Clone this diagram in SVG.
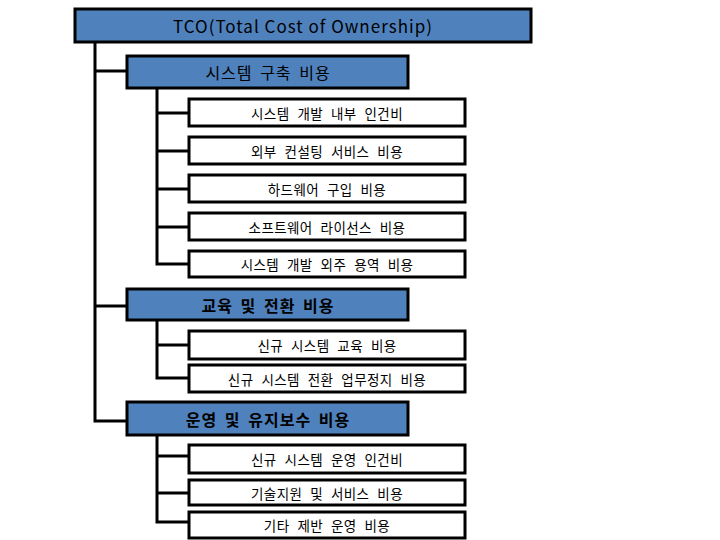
<svg xmlns="http://www.w3.org/2000/svg" width="720" height="540" viewBox="0 0 720 540">
<style>
.blue{fill:#4f81bd;stroke:#000;stroke-width:3}
.white{fill:#fff;stroke:#000;stroke-width:3}
.ln{fill:none;stroke:#000;stroke-width:3}
text{font-family:"Noto Sans CJK KR","Malgun Gothic",sans-serif;text-anchor:middle;dominant-baseline:central;fill:#000}
.t0{font-size:17px;letter-spacing:1px}
.t1{font-size:16px;letter-spacing:1px;word-spacing:3px}
.b{font-weight:bold}
.t2{font-size:13.5px;letter-spacing:0.4px;word-spacing:4.5px}
</style>
<rect width="720" height="540" fill="#fff"/>
<g id="connectors">
<polyline class="ln" points="95,42 95,421 127,421"/>
<line class="ln" x1="95" y1="71" x2="127" y2="71"/>
<line class="ln" x1="95" y1="306" x2="127" y2="306"/>
<polyline class="ln" points="157,88 157,264 189,264"/>
<line class="ln" x1="157" y1="113" x2="189" y2="113"/>
<line class="ln" x1="157" y1="151" x2="189" y2="151"/>
<line class="ln" x1="157" y1="189" x2="189" y2="189"/>
<line class="ln" x1="157" y1="227" x2="189" y2="227"/>
<polyline class="ln" points="157,319 157,378 189,378"/>
<line class="ln" x1="157" y1="345" x2="189" y2="345"/>
<polyline class="ln" points="157,435 157,522 189,522"/>
<line class="ln" x1="157" y1="456" x2="189" y2="456"/>
<line class="ln" x1="157" y1="493" x2="189" y2="493"/>
</g>
<g id="tco"><rect class="blue" x="75" y="9" width="456" height="33"/><text class="t0" x="303" y="25">TCO(Total Cost of Ownership)</text></g>
<g id="build"><rect class="blue" x="127" y="56" width="281" height="32"/><text class="t1" x="268" y="72">시스템 구축 비용</text></g>
<g id="b1"><rect class="white" x="189" y="99" width="276" height="27"/><text class="t2" x="327" y="112.5">시스템 개발 내부 인건비</text></g>
<g id="b2"><rect class="white" x="189" y="137" width="276" height="27"/><text class="t2" x="327" y="150.5">외부 컨설팅 서비스 비용</text></g>
<g id="b3"><rect class="white" x="189" y="175" width="276" height="27"/><text class="t2" x="327" y="188.5">하드웨어 구입 비용</text></g>
<g id="b4"><rect class="white" x="189" y="213" width="276" height="27"/><text class="t2" x="327" y="226.5">소프트웨어 라이선스 비용</text></g>
<g id="b5"><rect class="white" x="189" y="251" width="276" height="26"/><text class="t2" x="327" y="264">시스템 개발 외주 용역 비용</text></g>
<g id="edu"><rect class="blue" x="127" y="289" width="281" height="31"/><text class="t1 b" x="268" y="304.5">교육 및 전환 비용</text></g>
<g id="e1"><rect class="white" x="189" y="331" width="276" height="28"/><text class="t2" x="327" y="345">신규 시스템 교육 비용</text></g>
<g id="e2"><rect class="white" x="189" y="365" width="276" height="27"/><text class="t2" x="327" y="378.5">신규 시스템 전환 업무정지 비용</text></g>
<g id="ops"><rect class="blue" x="127" y="402" width="281" height="33"/><text class="t1 b" x="268" y="418.5">운영 및 유지보수 비용</text></g>
<g id="o1"><rect class="white" x="189" y="445" width="276" height="28"/><text class="t2" x="327" y="459">신규 시스템 운영 인건비</text></g>
<g id="o2"><rect class="white" x="189" y="480" width="276" height="25"/><text class="t2" x="327" y="492.5">기술지원 및 서비스 비용</text></g>
<g id="o3"><rect class="white" x="189" y="512" width="276" height="26"/><text class="t2" x="327" y="525">기타 제반 운영 비용</text></g>
</svg>
